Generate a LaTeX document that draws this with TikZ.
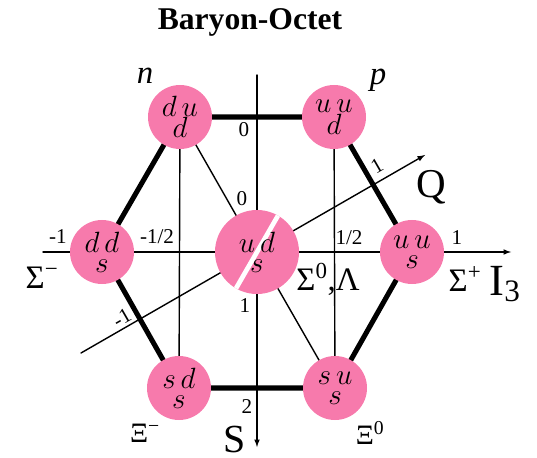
\RequirePackage{fix-cm}
\documentclass[tikz,border=0pt]{standalone}
\usepackage{fontspec}
\setmainfont{Liberation Serif}
\usetikzlibrary{backgrounds}
\definecolor{quarkpink}{RGB}{247,122,172}

\begin{document}
\begin{tikzpicture}[x=0.03cm,y=-0.03cm,>=latex,line join=round,line cap=round,
  quark/.style={circle,fill=quarkpink,minimum size=1.92cm,inner sep=0pt,align=center,font=\fontsize{25}{17}\selectfont},
  edge/.style={line width=4.3pt,line cap=butt},
  guide/.style={line width=1.2pt},
  axis/.style={line width=1.2pt,->},
  num/.style={font=\fontsize{18}{18}\selectfont,inner sep=1pt}]
\useasboundingbox (0,0) rectangle (537,458);
\node[font=\bfseries\fontsize{27}{30}\selectfont] (title) at (250,22) {Baryon-Octet};
% axes
\coordinate (Itail) at (43,252);  \coordinate (Itip) at (511,252);
\coordinate (Stail) at (257,75);  \coordinate (Stip) at (257,447);
\coordinate (Qtail) at (81,353);  \coordinate (Qtip) at (425,155);
\draw[axis] (Itail) -- (Itip);
\draw[axis] (Stail) -- (Stip);
\draw[axis] (Qtail) -- (Qtip);
% quark circles
\node[quark] (n) at (180,117) {$d\,u$\\$d$};
\node[quark] (p) at (334,117) {$u\,u$\\$d$};
\node[quark] (sm) at (102,252) {$d\,d$\\$s$};
\node[quark] (sp) at (412,252) {$u\,u$\\$s$};
\node[quark] (xm) at (179,388) {$s\,d$\\$s$};
\node[quark] (x0) at (335,388) {$s\,u$\\$s$};
\node[quark,minimum size=2.52cm,path picture={
  \draw[white,line width=4pt,line cap=butt] (path picture bounding box.center) ++(240:2cm) -- ++(60:4cm);}]
  (sl) at (257,252) {$u\,d$\\$s$};
\begin{pgfonlayer}{background}
\draw[guide] (n.center) -- (xm.center);
\draw[guide] (p.center) -- (x0.center);
\draw[guide] (n.center) -- (sl.center) -- (x0.center);
\draw[edge] (n.center) -- (p.center) -- (sp.center) -- (x0.center) -- (xm.center) -- (sm.center) -- cycle;
\end{pgfonlayer}
% labels
\node[font=\itshape\fontsize{28}{28}\selectfont] (nlab) at (145,76) {n};
\node[font=\itshape\fontsize{28}{28}\selectfont] (plab) at (378,80) {p};
\node[font=\fontsize{28}{28}\selectfont] (smlab) at (42,278) {Σ\textsuperscript{−}};
\node[font=\fontsize{28}{28}\selectfont] (sllab) at (328,279) {Σ\textsuperscript{0},Λ};
\node[font=\fontsize{28}{28}\selectfont] (splab) at (465,279) {Σ\textsuperscript{+}};
\node[font=\fontsize{24}{24}\selectfont] (xmlab) at (145,433) {Ξ\textsuperscript{−}};
\node[font=\fontsize{24}{24}\selectfont] (x0lab) at (370,433) {Ξ\textsuperscript{0}};
\node[font=\fontsize{38}{38}\selectfont] (Ilab) at (505,284) {I\textsubscript{3}};
\node[font=\fontsize{35}{35}\selectfont] (Qlab) at (431,187) {Q};
\node[font=\fontsize{34}{34}\selectfont] (Slab) at (235,440) {S};
% scale values
\node[num] at (58,237) {-1};
\node[num] at (157,237) {-1/2};
\node[num] at (349,238) {1/2};
\node[num] at (457,238) {1};
\node[num] at (244,130) {0};
\node[num] at (242,199) {0};
\node[num] at (245,306) {1};
\node[num] at (247,407) {2};
\node[num,rotate=30] at (377,166) {1};
\node[num,rotate=30] at (122,318) {-1};
\end{tikzpicture}
\end{document}
